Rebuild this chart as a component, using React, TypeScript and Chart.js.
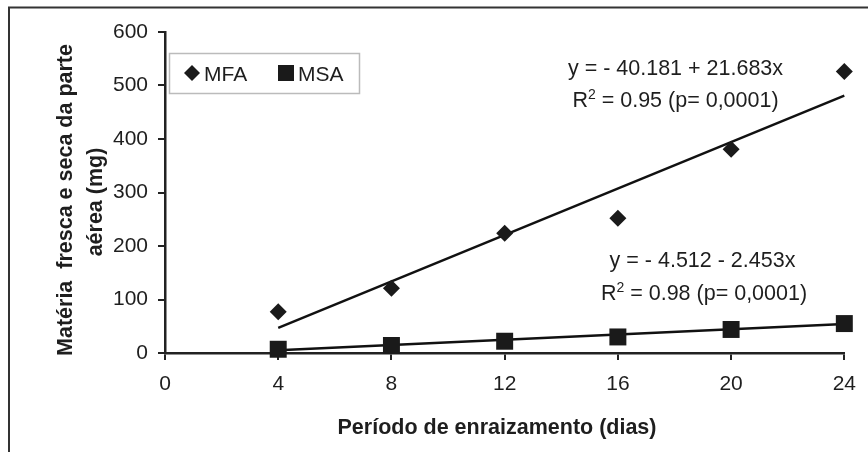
import React, { useEffect, useRef } from "react";
import { Chart, registerables } from "chart.js";

Chart.register(...registerables);

// ---- Data ----
const days = [4, 8, 12, 16, 20, 24];
const mfaValues = [77, 121, 224, 252, 381, 526];
const msaValues = [7, 14, 22, 30, 44, 55];
const trendDays = [4, 24];
const mfaTrend = [47, 481];
const msaTrend = [5, 54];
const xTicks = [0, 4, 8, 12, 16, 20, 24];
const yTicks = [0, 100, 200, 300, 400, 500, 600];
const seriesNames = ["MFA", "MSA"];
const xTitle = "Período de enraizamento (dias)";
const yTitleLines = ["Matéria  fresca e seca da parte", "aérea (mg)"];
const mfaEquation = ["y = - 40.181 + 21.683x", " = 0.95 (p= 0,0001)"];
const msaEquation = ["y = - 4.512 - 2.453x", " = 0.98 (p= 0,0001)"];

const FONT = '"Liberation Sans", Arial, sans-serif';
const TEXT = "#1e1e1e";
const MARK = "#1a1a1a";
const EQ_SIZE = 21.5;

function drawR2Line(ctx: CanvasRenderingContext2D, rest: string, cx: number, baseline: number) {
  const main = `${EQ_SIZE}px ${FONT}`;
  const sup = `14px ${FONT}`;
  ctx.font = main;
  const wR = ctx.measureText("R").width;
  const wRest = ctx.measureText(rest).width;
  ctx.font = sup;
  const wSup = ctx.measureText("2").width;
  const total = wR + wSup + wRest;
  let x = cx - total / 2;
  ctx.textAlign = "left";
  ctx.textBaseline = "alphabetic";
  ctx.font = main;
  ctx.fillText("R", x, baseline);
  x += wR;
  ctx.font = sup;
  ctx.fillText("2", x, baseline - 8.5);
  x += wSup;
  ctx.font = main;
  ctx.fillText(rest, x, baseline);
}

const decorPlugin = {
  id: "decor",
  afterDraw(chart: any) {
    const ctx: CanvasRenderingContext2D = chart.ctx;
    ctx.save();
    // outer frame
    ctx.strokeStyle = "#333333";
    ctx.lineWidth = 2;
    ctx.strokeRect(9, 7.5, 900, 500);

    ctx.fillStyle = TEXT;
    // axis titles
    ctx.font = `bold 21.5px ${FONT}`;
    ctx.textAlign = "center";
    ctx.textBaseline = "middle";
    ctx.fillText(xTitle, 497, 428);
    ctx.save();
    ctx.translate(66, 200);
    ctx.rotate(-Math.PI / 2);
    ctx.fillText(yTitleLines[0], 0, 0);
    ctx.restore();
    ctx.save();
    ctx.translate(96, 202);
    ctx.rotate(-Math.PI / 2);
    ctx.fillText(yTitleLines[1], 0, 0);
    ctx.restore();

    // legend box
    ctx.strokeStyle = "#bbbbbb";
    ctx.lineWidth = 1.5;
    ctx.strokeRect(169.5, 53.5, 190, 40);
    ctx.fillStyle = MARK;
    ctx.beginPath();
    ctx.moveTo(192, 65);
    ctx.lineTo(200, 73);
    ctx.lineTo(192, 81);
    ctx.lineTo(184, 73);
    ctx.closePath();
    ctx.fill();
    ctx.fillRect(278, 65, 16, 16);
    ctx.fillStyle = TEXT;
    ctx.font = `21px ${FONT}`;
    ctx.textAlign = "left";
    ctx.textBaseline = "alphabetic";
    ctx.fillText(seriesNames[0], 204, 80.5);
    ctx.fillText(seriesNames[1], 298, 80.5);

    // equations
    ctx.font = `${EQ_SIZE}px ${FONT}`;
    ctx.textAlign = "center";
    ctx.fillText(mfaEquation[0], 675.5, 75);
    drawR2Line(ctx, mfaEquation[1], 675.5, 107);
    ctx.font = `${EQ_SIZE}px ${FONT}`;
    ctx.textAlign = "center";
    ctx.fillText(msaEquation[0], 702.5, 267);
    drawR2Line(ctx, msaEquation[1], 704, 300);
    ctx.restore();
  },
};

export default function App() {
  const ref = useRef<HTMLCanvasElement | null>(null);

  useEffect(() => {
    if (!ref.current) return;
    const chart = new Chart(ref.current, {
      type: "scatter",
      data: {
        datasets: [
          {
            label: seriesNames[0],
            data: days.map((d, i) => ({ x: d, y: mfaValues[i] })),
            pointStyle: "rectRot",
            pointRadius: 8.5,
            backgroundColor: MARK,
            borderWidth: 0,
            showLine: false,
            clip: false,
            order: 1,
          },
          {
            label: seriesNames[1],
            data: days.map((d, i) => ({ x: d, y: msaValues[i] })),
            pointStyle: "rect",
            pointRadius: 12,
            backgroundColor: MARK,
            borderWidth: 0,
            showLine: false,
            clip: false,
            order: 1,
          },
          {
            label: "MFA trend",
            data: trendDays.map((d, i) => ({ x: d, y: mfaTrend[i] })),
            showLine: true,
            pointRadius: 0,
            borderColor: "#111111",
            borderWidth: 2.5,
            clip: false,
            order: 2,
          },
          {
            label: "MSA trend",
            data: trendDays.map((d, i) => ({ x: d, y: msaTrend[i] })),
            showLine: true,
            pointRadius: 0,
            borderColor: "#111111",
            borderWidth: 2.5,
            clip: false,
            order: 2,
          },
        ],
      },
      options: {
        responsive: false,
        animation: false,
        layout: { padding: { left: 0, right: 16, top: 32, bottom: 0 } },
        plugins: {
          legend: { display: false },
          tooltip: { enabled: false },
        },
        scales: {
          x: {
            type: "linear",
            min: xTicks[0],
            max: xTicks[xTicks.length - 1],
            afterBuildTicks: (scale: any) => {
              scale.ticks = xTicks.map((v) => ({ value: v }));
            },
            afterFit: (scale: any) => {
              scale.height = 99;
            },
            ticks: {
              color: TEXT,
              font: { size: 21, family: FONT },
              padding: 12,
              maxRotation: 0,
              autoSkip: false,
            },
            grid: {
              display: true,
              drawOnChartArea: false,
              drawTicks: true,
              tickLength: 7,
              color: "#222222",
              lineWidth: 2,
            },
            border: { display: true, color: "#222222", width: 2.5 },
          },
          y: {
            type: "linear",
            min: yTicks[0],
            max: yTicks[yTicks.length - 1],
            afterBuildTicks: (scale: any) => {
              scale.ticks = yTicks.map((v) => ({ value: v }));
            },
            afterFit: (scale: any) => {
              scale.width = 165;
            },
            ticks: {
              color: TEXT,
              font: { size: 21, family: FONT },
              padding: 10,
              autoSkip: false,
            },
            grid: {
              display: true,
              drawOnChartArea: false,
              drawTicks: true,
              tickLength: 7,
              color: "#222222",
              lineWidth: 2,
            },
            border: { display: true, color: "#222222", width: 2.5 },
          },
        },
      },
      plugins: [decorPlugin],
    } as any);
    return () => chart.destroy();
  }, []);

  return (
    <div
      style={{
        position: "fixed",
        left: 0,
        top: 0,
        width: 868,
        height: 452,
        overflow: "hidden",
        background: "#ffffff",
      }}
    >
      <canvas ref={ref} width={868} height={452} style={{ display: "block" }} />
    </div>
  );
}
